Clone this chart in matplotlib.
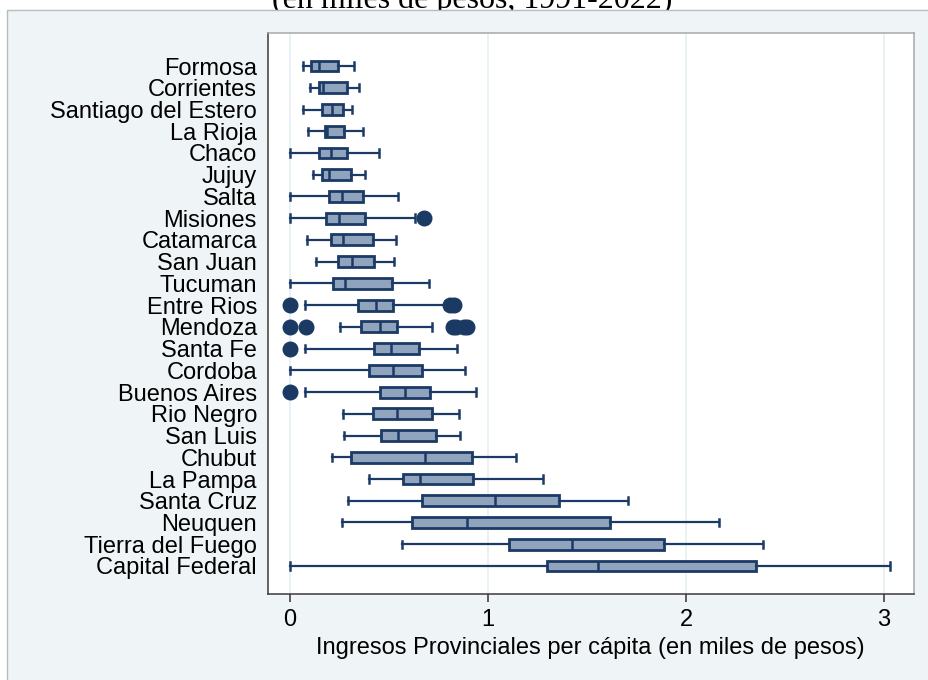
import matplotlib.pyplot as plt
from matplotlib.patches import Rectangle

plt.rcParams['font.family'] = ['Liberation Sans', 'DejaVu Sans']

provincias = ["Formosa", "Corrientes", "Santiago del Estero", "La Rioja", "Chaco",
              "Jujuy", "Salta", "Misiones", "Catamarca", "San Juan", "Tucuman",
              "Entre Rios", "Mendoza", "Santa Fe", "Cordoba", "Buenos Aires",
              "Rio Negro", "San Luis", "Chubut", "La Pampa", "Santa Cruz",
              "Neuquen", "Tierra del Fuego", "Capital Federal"]

# resumen de cada distribucion (miles de pesos per capita)
bigote_inf = [0.064, 0.101, 0.067, 0.093, 0.0, 0.114, 0.0, 0.0, 0.086, 0.131, 0.0, 0.076,
              0.251, 0.076, 0.0, 0.076, 0.268, 0.274, 0.214, 0.399, 0.294, 0.263, 0.568, 0.0]
q1 = [0.104, 0.148, 0.163, 0.175, 0.148, 0.160, 0.195, 0.184, 0.207, 0.241, 0.215, 0.343,
      0.360, 0.423, 0.399, 0.456, 0.421, 0.462, 0.309, 0.570, 0.667, 0.615, 1.107, 1.297]
mediana = [0.145, 0.168, 0.214, 0.189, 0.205, 0.195, 0.261, 0.249, 0.269, 0.315, 0.278, 0.433,
           0.453, 0.510, 0.522, 0.579, 0.539, 0.548, 0.680, 0.658, 1.034, 0.894, 1.422, 1.556]
q3 = [0.242, 0.286, 0.268, 0.273, 0.290, 0.306, 0.367, 0.379, 0.419, 0.423, 0.513, 0.520,
      0.539, 0.653, 0.667, 0.705, 0.715, 0.736, 0.917, 0.926, 1.358, 1.615, 1.891, 2.353]
bigote_sup = [0.322, 0.347, 0.311, 0.367, 0.451, 0.379, 0.544, 0.631, 0.534, 0.525, 0.702, 0.785,
              0.717, 0.845, 0.886, 0.941, 0.852, 0.861, 1.142, 1.276, 1.705, 2.165, 2.389, 3.030]
atipicos = [[], [], [], [], [], [], [], [0.677], [], [], [],
            [0.0, 0.806, 0.827],
            [0.0, 0.079, 0.821, 0.838, 0.879, 0.895],
            [0.0], [], [0.0], [], [], [], [], [], [], [], []]

azul = '#1c3a66'
relleno = '#91a4be'

fig = plt.figure(figsize=(9.29, 6.80), dpi=100, facecolor='white')

# titulo (queda casi todo fuera del lienzo)
fig.text(472 / 929, 1 - 8 / 680, "(en miles de pesos, 1991-2022)", ha='center',
         va='baseline', family='Liberation Serif', fontsize=23, zorder=0.2)
fig.patches.append(Rectangle((7 / 929, -0.05), 1.0, 1 - 10 / 680 + 0.05,
                             transform=fig.transFigure, facecolor='#eff4f7',
                             edgecolor='#b8bcbf', lw=1.0, zorder=0.5))

ax = fig.add_axes([268 / 929, 1 - 594 / 680, (913.5 - 268) / 929, (594 - 33) / 680])
ax.set_zorder(1)
ax.set_facecolor('white')

stats = []
for i, nombre in enumerate(provincias):
    stats.append(dict(label=nombre, whislo=bigote_inf[i], q1=q1[i], med=mediana[i],
                      q3=q3[i], whishi=bigote_sup[i], fliers=atipicos[i]))

ax.bxp(stats, positions=range(len(provincias)), orientation='horizontal',
       widths=0.5, capwidths=0.34, patch_artist=True, showfliers=True,
       boxprops=dict(facecolor=relleno, edgecolor=azul, linewidth=2.0),
       medianprops=dict(color=azul, linewidth=1.8),
       whiskerprops=dict(color=azul, linewidth=1.6),
       capprops=dict(color=azul, linewidth=1.8),
       flierprops=dict(marker='o', markerfacecolor='#1a3a64', markeredgecolor='#1a3a64',
                       markersize=10.5))

ax.set_xlim(-0.111, 3.149)
ax.set_ylim(len(provincias) - 1 + 1.29, -1.52)
ax.set_xticks([0, 1, 2, 3])
ax.set_xticklabels(['0', '1', '2', '3'])
ax.set_yticks(range(len(provincias)))
ax.set_yticklabels(provincias)
ax.tick_params(axis='y', length=0, pad=8, labelsize=17)
ax.tick_params(axis='x', length=6, width=1.1, color='#333333', pad=5, labelsize=17)
ax.xaxis.grid(True, color='#e8f0f4', linewidth=1.3)
ax.set_axisbelow(True)

for lado in ['left', 'bottom']:
    ax.spines[lado].set_color('#3a3a3a')
    ax.spines[lado].set_linewidth(1.1)
for lado in ['top', 'right']:
    ax.spines[lado].set_color('#a8a8a8')
    ax.spines[lado].set_linewidth(1.1)

ax.set_xlabel('Ingresos Provinciales per cápita (en miles de pesos)', fontsize=17, labelpad=4)

fig.savefig('out.png', dpi=100, facecolor=fig.get_facecolor())
